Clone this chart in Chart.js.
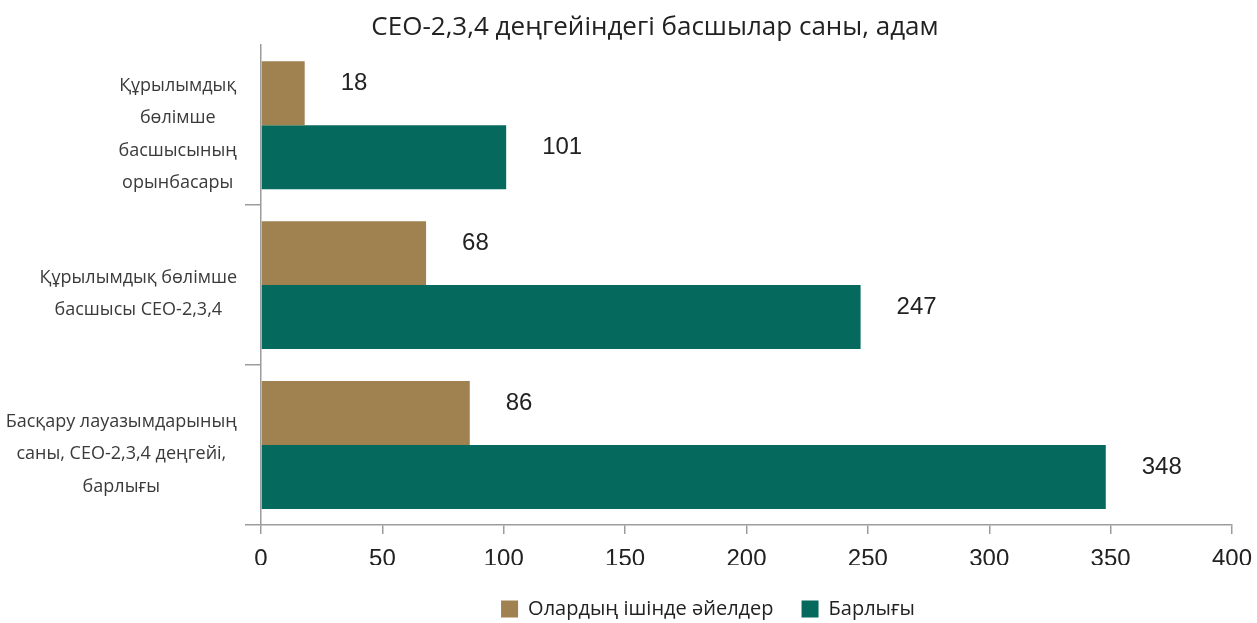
<!DOCTYPE html>
<html>
<head>
<meta charset="utf-8">
<script src="https://cdn.jsdelivr.net/npm/chart.js@4.4.1/dist/chart.umd.min.js"></script>
<style>
  html, body { margin: 0; padding: 0; background: #fff; }
  #wrap { width: 1257px; height: 623px; }
</style>
</head>
<body>
<div id="wrap"><canvas id="barChart"></canvas></div>
<script>
// chart data
const categories = [
    ['Құрылымдық', 'бөлімше', 'басшысының', 'орынбасары'],
    ['Құрылымдық бөлімше', 'басшысы CEO-2,3,4'],
    ['Басқару лауазымдарының', 'саны, CEO-2,3,4 деңгейі,', 'барлығы']
];
const womenValues = [18, 68, 86];
const totalValues = [101, 247, 348];
const seriesNames = ['Олардың ішінде әйелдер', 'Барлығы'];
const chartTitle = 'CEO-2,3,4 деңгейіндегі басшылар саны, адам';

const brown = '#9f8250';
const green = '#05695d';
const axisGray = '#9c9c9c';
const textFont = '"Open Sans", "Noto Sans", sans-serif';
const numFont = '"Liberation Sans", Arial, sans-serif';

// move title / legend so they sit where the original ones are
const shiftBoxes = {
    id: 'shiftBoxes',
    afterLayout(chart) {
        const t = chart.titleBlock;
        const dt = 655 - (t.left + t.right) / 2;
        t.left += dt; t.right += dt;
        const l = chart.legend;
        const dl = 708 - (l.left + l.right) / 2;
        l.left += dl; l.right += dl;
        const dy = 609 - (l.top + 28 + 10);
        l.top += dy; l.bottom += dy;
    }
};

// value labels to the right of each bar
const valueLabels = {
    id: 'valueLabels',
    afterDatasetsDraw(chart) {
        const ctx = chart.ctx;
        ctx.save();
        ctx.font = '24px ' + numFont;
        ctx.fillStyle = '#222';
        ctx.textAlign = 'left';
        ctx.textBaseline = 'middle';
        chart.data.datasets.forEach((ds, di) => {
            chart.getDatasetMeta(di).data.forEach((bar, i) => {
                ctx.fillText(ds.data[i], bar.x + 36, bar.y - 10);
            });
        });
        ctx.restore();
    }
};

// wrapped category labels, lines centred inside each block
const categoryLabels = {
    id: 'categoryLabels',
    afterDraw(chart) {
        const ctx = chart.ctx;
        const yScale = chart.scales.y;
        ctx.save();
        ctx.font = '18px ' + textFont;
        ctx.fillStyle = '#3a3a3a';
        ctx.textAlign = 'center';
        ctx.textBaseline = 'middle';
        const lineH = 32.5;
        const rightEdge = yScale.right - 24;
        categories.forEach((lines, i) => {
            const w = Math.max(...lines.map(s => ctx.measureText(s).width));
            const cx = rightEdge - w / 2;
            const cy = yScale.getPixelForValue(i) + 9;
            const y0 = cy - (lines.length - 1) * lineH / 2;
            lines.forEach((s, k) => ctx.fillText(s, cx, y0 + k * lineH));
        });
        ctx.restore();
    }
};

const data = {
    labels: categories,
    datasets: [{
        label: seriesNames[0],
        data: womenValues,
        backgroundColor: brown,
        categoryPercentage: 0.8,
        barPercentage: 1.0
    }, {
        label: seriesNames[1],
        data: totalValues,
        backgroundColor: green,
        categoryPercentage: 0.8,
        barPercentage: 1.0
    }]
};

const config = {
    type: 'bar',
    data: data,
    options: {
        indexAxis: 'y',
        responsive: true,
        maintainAspectRatio: false,
        animation: false,
        layout: { padding: { left: 0, right: 0, top: 0, bottom: 0 } },
        plugins: {
            title: {
                display: true,
                text: chartTitle,
                color: '#222',
                font: { family: textFont, size: 26, weight: 'normal', lineHeight: 1.2 },
                padding: { top: 12, bottom: 2 }
            },
            legend: {
                position: 'bottom',
                labels: {
                    boxWidth: 17,
                    boxHeight: 17,
                    padding: 28,
                    color: '#222',
                    font: { family: textFont, size: 20 }
                }
            },
            tooltip: { enabled: false }
        },
        scales: {
            x: {
                min: 0,
                max: 400,
                ticks: {
                    stepSize: 50,
                    color: '#222',
                    padding: 11,
                    font: { family: numFont, size: 24 }
                },
                grid: { drawOnChartArea: false, drawTicks: true, tickLength: 9, color: axisGray, lineWidth: 1.5 },
                border: { color: axisGray, width: 1.5 },
                afterFit: (scale) => {
                    scale.height = scale.chart.height - 525 - scale.chart.legend.height;
                    scale.paddingLeft = 0;
                    scale.paddingRight = 25;
                }
            },
            y: {
                ticks: { display: false },
                grid: {
                    offset: true,
                    drawOnChartArea: false,
                    drawTicks: true,
                    tickLength: 16,
                    lineWidth: 1.5,
                    color: (c) => c.index === 0 ? 'rgba(0,0,0,0)' : axisGray
                },
                border: { color: axisGray, width: 1.5 },
                afterFit: (scale) => { scale.width = 261; }
            }
        }
    },
    plugins: [shiftBoxes, valueLabels, categoryLabels]
};

var ctx = document.getElementById('barChart').getContext('2d');
const myChart = new Chart(ctx, config);
</script>
</body>
</html>
